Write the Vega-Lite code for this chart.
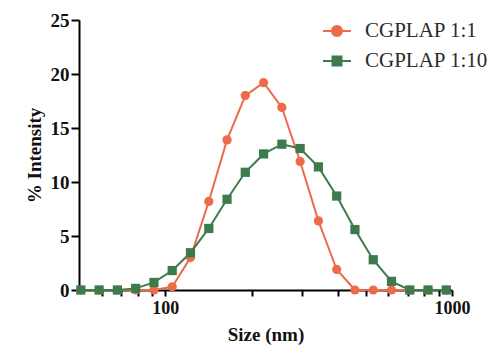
{
  "$schema": "https://vega.github.io/schema/vega-lite/v6.json",
  "width": 373,
  "height": 270,
  "autosize": "none",
  "padding": {"left": 79, "top": 20, "right": 40, "bottom": 63},
  "background": "white",
  "config": {
    "view": {"stroke": null},
    "font": "Liberation Serif"
  },
  "data": {
    "values": [
      {"size": 50.75, "series": "CGPLAP 1:1", "intensity": 0},
      {"size": 58.77, "series": "CGPLAP 1:1", "intensity": 0},
      {"size": 68.06, "series": "CGPLAP 1:1", "intensity": 0},
      {"size": 78.82, "series": "CGPLAP 1:1", "intensity": 0},
      {"size": 91.28, "series": "CGPLAP 1:1", "intensity": 0},
      {"size": 105.7, "series": "CGPLAP 1:1", "intensity": 0.3},
      {"size": 122.4, "series": "CGPLAP 1:1", "intensity": 3.0},
      {"size": 141.8, "series": "CGPLAP 1:1", "intensity": 8.2},
      {"size": 164.2, "series": "CGPLAP 1:1", "intensity": 13.9},
      {"size": 190.1, "series": "CGPLAP 1:1", "intensity": 18.0},
      {"size": 220.2, "series": "CGPLAP 1:1", "intensity": 19.2},
      {"size": 255.0, "series": "CGPLAP 1:1", "intensity": 16.9},
      {"size": 295.3, "series": "CGPLAP 1:1", "intensity": 11.9},
      {"size": 342.0, "series": "CGPLAP 1:1", "intensity": 6.4},
      {"size": 396.1, "series": "CGPLAP 1:1", "intensity": 1.9},
      {"size": 458.7, "series": "CGPLAP 1:1", "intensity": 0},
      {"size": 531.2, "series": "CGPLAP 1:1", "intensity": 0},
      {"size": 615.1, "series": "CGPLAP 1:1", "intensity": 0},
      {"size": 712.4, "series": "CGPLAP 1:1", "intensity": 0},
      {"size": 825.0, "series": "CGPLAP 1:1", "intensity": 0},
      {"size": 955.4, "series": "CGPLAP 1:1", "intensity": 0},
      {"size": 50.75, "series": "CGPLAP 1:10", "intensity": 0},
      {"size": 58.77, "series": "CGPLAP 1:10", "intensity": 0},
      {"size": 68.06, "series": "CGPLAP 1:10", "intensity": 0},
      {"size": 78.82, "series": "CGPLAP 1:10", "intensity": 0.15},
      {"size": 91.28, "series": "CGPLAP 1:10", "intensity": 0.7},
      {"size": 105.7, "series": "CGPLAP 1:10", "intensity": 1.8},
      {"size": 122.4, "series": "CGPLAP 1:10", "intensity": 3.45},
      {"size": 141.8, "series": "CGPLAP 1:10", "intensity": 5.7},
      {"size": 164.2, "series": "CGPLAP 1:10", "intensity": 8.4},
      {"size": 190.1, "series": "CGPLAP 1:10", "intensity": 10.9},
      {"size": 220.2, "series": "CGPLAP 1:10", "intensity": 12.6},
      {"size": 255.0, "series": "CGPLAP 1:10", "intensity": 13.5},
      {"size": 295.3, "series": "CGPLAP 1:10", "intensity": 13.1},
      {"size": 342.0, "series": "CGPLAP 1:10", "intensity": 11.4},
      {"size": 396.1, "series": "CGPLAP 1:10", "intensity": 8.7},
      {"size": 458.7, "series": "CGPLAP 1:10", "intensity": 5.6},
      {"size": 531.2, "series": "CGPLAP 1:10", "intensity": 2.8},
      {"size": 615.1, "series": "CGPLAP 1:10", "intensity": 0.8},
      {"size": 712.4, "series": "CGPLAP 1:10", "intensity": 0},
      {"size": 825.0, "series": "CGPLAP 1:10", "intensity": 0},
      {"size": 955.4, "series": "CGPLAP 1:10", "intensity": 0}
    ]
  },
  "encoding": {
    "x": {
      "field": "size",
      "type": "quantitative",
      "scale": {"type": "log", "domain": [50, 1000], "nice": false},
      "axis": {
        "title": "Size (nm)",
        "values": [60, 70, 80, 90, 100, 200, 300, 400, 500, 600, 700, 800, 900, 1000],
        "labelExpr": "datum.value == 100 || datum.value == 1000 ? datum.value : ''",
        "grid": false,
        "domainColor": "black",
        "domainWidth": 2,
        "tickColor": "black",
        "tickWidth": 2,
        "tickSize": 6,
        "labelFont": "Liberation Serif",
        "labelFontWeight": "bold",
        "labelFontSize": 18,
        "labelColor": "#111",
        "labelPadding": 3,
        "labelFlush": false,
        "labelOverlap": false,
        "titleFont": "Liberation Serif",
        "titleFontWeight": "bold",
        "titleFontSize": 19,
        "titleColor": "#111",
        "titlePadding": 8
      }
    },
    "y": {
      "field": "intensity",
      "type": "quantitative",
      "scale": {"domain": [0, 25], "nice": false},
      "axis": {
        "title": "% Intensity",
        "values": [0, 5, 10, 15, 20, 25],
        "grid": false,
        "domainColor": "black",
        "domainWidth": 2,
        "tickColor": "black",
        "tickWidth": 2,
        "tickSize": 8,
        "labelFont": "Liberation Serif",
        "labelFontWeight": "bold",
        "labelFontSize": 19,
        "labelColor": "#111",
        "labelPadding": 2,
        "titleFont": "Liberation Serif",
        "titleFontWeight": "bold",
        "titleFontSize": 19,
        "titleColor": "#111",
        "titlePadding": 6
      }
    },
    "color": {
      "field": "series",
      "type": "nominal",
      "scale": {"domain": ["CGPLAP 1:1", "CGPLAP 1:10"], "range": ["#EC6B4A", "#3D7B4C"]},
      "legend": {
        "title": null,
        "orient": "none",
        "legendX": 243,
        "legendY": -4,
        "padding": 0,
        "symbolSize": 784,
        "symbolStrokeWidth": 2,
        "symbolType": "M-1,0H1M0.36,0A0.36,0.36,0,1,1,-0.36,0A0.36,0.36,0,1,1,0.36,0Z",
        "labelFont": "Liberation Serif",
        "labelFontSize": 21,
        "labelColor": "#2a2a2a",
        "labelOffset": 13,
        "rowPadding": 5,
        "encode": {
          "symbols": {
            "update": {
              "shape": {"signal": "datum.value === 'CGPLAP 1:1' ? 'M-1,0H1M0.36,0A0.36,0.36,0,1,1,-0.36,0A0.36,0.36,0,1,1,0.36,0Z' : 'M-1,0H1M-0.32,-0.32H0.32V0.32H-0.32Z'"},
              "fill": {"signal": "datum.value === 'CGPLAP 1:1' ? '#EC6B4A' : '#3D7B4C'"},
              "stroke": {"signal": "datum.value === 'CGPLAP 1:1' ? '#EC6B4A' : '#3D7B4C'"},
              "strokeWidth": {"value": 2},
              "opacity": {"value": 1},
              "fillOpacity": {"value": 1}
            }
          }
        }
      }
    }
  },
  "layer": [
    {
      "mark": {"type": "line", "strokeWidth": 2}
    },
    {
      "transform": [{"filter": "datum.series === 'CGPLAP 1:1'"}],
      "mark": {"type": "point", "shape": "circle", "filled": true, "opacity": 1, "size": 85}
    },
    {
      "transform": [{"filter": "datum.series === 'CGPLAP 1:10'"}],
      "mark": {"type": "point", "shape": "square", "filled": true, "opacity": 1, "size": 85}
    }
  ]
}
